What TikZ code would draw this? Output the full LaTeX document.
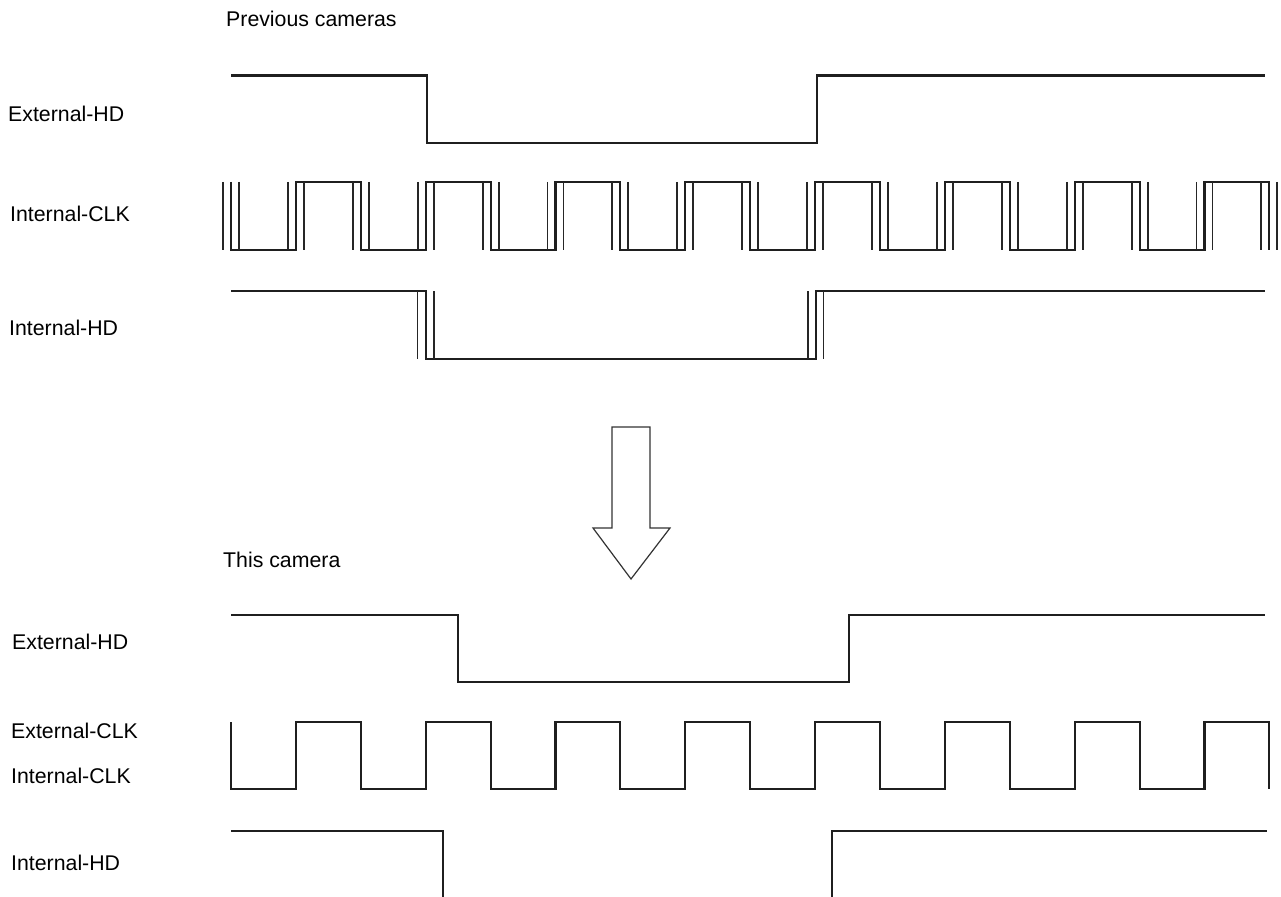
\documentclass[tikz,border=0pt]{standalone}
\usepackage{fontspec}
\setmainfont{Liberation Sans}
\usepackage{tikz}
\usetikzlibrary{positioning}
\tikzstyle{label} = [inner sep=0pt, anchor=base west, font=\fontsize{21.3}{25}\selectfont]
\tikzstyle{wave} = [line width=2.1pt, draw=black!88, line join=miter]
\tikzstyle{jitter} = [line width=1.9pt, draw=black!85]
\tikzstyle{bigarrow} = [line width=1.2pt, draw=black!80, fill=white]

\begin{document}
\begin{tikzpicture}[x=1pt, y=-1pt]
\useasboundingbox (0,0) rectangle (1281,896);

\node (prev) [label] at (226,27) {Previous cameras};
\node (extHDa) [label] at (8,122) {External-HD};
\node (intCLKa) [label] at (10,221) {Internal-CLK};
\node (intHDa) [label] at (9,335) {Internal-HD};

\node (this) [label] at (223,567) {This camera};
\node (extHDb) [label] at (12,649) {External-HD};
\node (extCLKb) [label] at (11,738) {External-CLK};
\node (intCLKb) [label] at (11,783) {Internal-CLK};
\node (intHDb) [label] at (11,870) {Internal-HD};

% previous cameras
\draw[wave] (231,75.5) -- (427,75.5) -- (427,143) -- (817,143) -- (817,75.5) -- (1265,75.5);

\draw[wave] (231,182) \foreach \k in {0,2,...,14} {
  -- ({231+64.9*\k},250) -- ({231+64.9*(\k+1)},250)
  -- ({231+64.9*(\k+1)},182) -- ({231+64.9*(\k+2)},182) } -- ({231+64.9*16},250);
\foreach \k in {0,...,16} {
  \draw[jitter] ({223+64.9*\k},182) -- ({223+64.9*\k},250);
  \draw[jitter] ({239+64.9*\k},182) -- ({239+64.9*\k},250);
}

\draw[wave] (231,291) -- (426,291) -- (426,359) -- (816,359) -- (816,291) -- (1265,291);
\foreach \x in {417.5,434,808,823.5}
  \draw[jitter] (\x,291) -- (\x,359);

% arrow
\draw[bigarrow] (612,427) -- (650,427) -- (650,528) -- (670,528) -- (631,579)
  -- (593,528) -- (612,528) -- cycle;

% this camera
\draw[wave] (231,615) -- (458,615) -- (458,682) -- (849,682) -- (849,615) -- (1265,615);

\draw[wave] (231,722) \foreach \k in {0,2,...,14} {
  -- ({231+64.9*\k},789) -- ({231+64.9*(\k+1)},789)
  -- ({231+64.9*(\k+1)},722) -- ({231+64.9*(\k+2)},722) } -- ({231+64.9*16},789);

\draw[wave] (231,831) -- (443,831) -- (443,897);
\draw[wave] (832,897) -- (832,831) -- (1267,831);
\end{tikzpicture}
\end{document}
